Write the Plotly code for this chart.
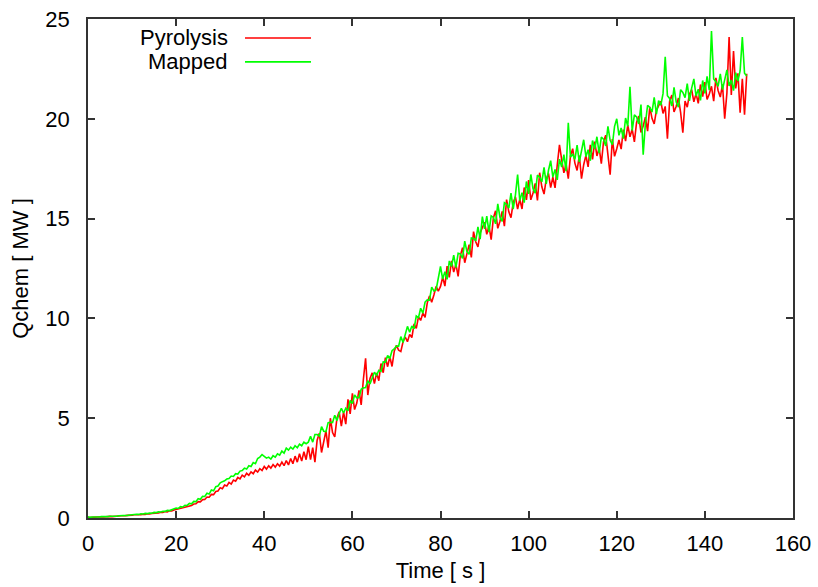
import plotly.graph_objects as go

# time step 0.5 s, 0 .. 149.5 s
time_s = [i * 0.5 for i in range(300)]

pyrolysis = [
    0.02, 0.03, 0.03, 0.04, 0.05, 0.04, 0.06, 0.05, 0.07, 0.06, 0.08, 0.07, 0.09, 0.08, 0.10, 0.11, 0.10, 0.12, 0.13, 0.12,
    0.14, 0.16, 0.15, 0.17, 0.16, 0.19, 0.18, 0.21, 0.20, 0.23, 0.23, 0.26, 0.25, 0.29, 0.28, 0.32, 0.31, 0.36, 0.35, 0.40,
    0.43, 0.44, 0.49, 0.50, 0.55, 0.56, 0.62, 0.63, 0.70, 0.71, 0.82, 0.81, 0.92, 0.93, 1.05, 1.04, 1.18, 1.17, 1.33, 1.35,
    1.52, 1.47, 1.65, 1.60, 1.78, 1.70, 1.90, 1.84, 2.03, 1.96, 2.15, 2.06, 2.24, 2.14, 2.31, 2.22, 2.40, 2.30, 2.47, 2.38,
    2.58, 2.45, 2.62, 2.50, 2.68, 2.55, 2.72, 2.60, 2.80, 2.62, 2.88, 2.66, 2.98, 2.72, 3.10, 2.80, 3.22, 2.85, 3.32, 2.92,
    3.58, 2.92, 3.52, 2.80, 3.90, 4.24, 3.28, 3.86, 4.36, 3.52, 5.00, 4.28, 4.06, 5.00, 5.32, 4.60, 5.30, 4.70, 5.94, 5.22,
    6.25, 5.43, 5.76, 6.39, 5.67, 6.95, 8.00, 6.16, 6.99, 7.27, 6.73, 7.27, 6.88, 7.74, 7.28, 8.03, 7.58, 8.08, 7.59, 8.35,
    8.65, 8.41, 8.34, 8.83, 9.07, 8.83, 9.20, 9.04, 9.73, 9.50, 10.08, 9.90, 10.27, 10.05, 10.78, 11.12, 10.81, 11.17, 11.60, 11.37,
    11.60, 12.06, 11.62, 12.62, 12.06, 12.88, 12.32, 12.72, 12.10, 13.15, 13.54, 12.79, 13.18, 13.69, 13.06, 14.35, 13.84, 13.58, 14.28, 14.56,
    14.82, 14.21, 14.63, 13.95, 15.03, 15.39, 14.51, 14.87, 15.36, 14.62, 15.95, 15.34, 15.05, 15.80, 16.09, 15.48, 15.97, 15.48, 16.56, 15.94,
    16.93, 15.94, 16.28, 16.76, 15.91, 17.30, 16.59, 16.23, 16.99, 17.26, 16.55, 17.07, 16.54, 17.69, 18.70, 17.96, 17.29, 17.74, 17.00, 18.15,
    18.50, 17.78, 17.41, 18.16, 17.00, 17.70, 18.17, 17.59, 18.69, 17.97, 18.86, 18.14, 18.54, 17.75, 18.85, 19.18, 18.18, 17.20, 18.98, 18.12,
    18.50, 18.94, 18.48, 19.46, 18.88, 19.68, 19.10, 19.48, 18.84, 19.82, 20.14, 19.32, 19.64, 20.08, 19.38, 20.60, 20.02, 19.74, 20.42, 20.68,
    20.88, 20.27, 20.62, 19.00, 20.90, 21.19, 20.34, 20.63, 21.04, 20.31, 19.30, 20.89, 20.58, 21.23, 21.46, 20.85, 21.26, 20.77, 21.72, 21.11,
    21.84, 20.97, 21.24, 21.63, 20.88, 22.05, 21.42, 21.09, 21.72, 20.00, 21.30, 24.10, 21.20, 23.40, 21.52, 22.28, 20.30, 22.00, 20.20, 22.26,
]

mapped = [
    0.06, 0.03, 0.05, 0.04, 0.06, 0.05, 0.07, 0.06, 0.08, 0.07, 0.09, 0.08, 0.10, 0.09, 0.11, 0.11, 0.12, 0.13, 0.13, 0.15,
    0.17, 0.16, 0.19, 0.18, 0.21, 0.20, 0.23, 0.22, 0.25, 0.24, 0.28, 0.27, 0.31, 0.30, 0.34, 0.33, 0.38, 0.37, 0.42, 0.44,
    0.50, 0.48, 0.57, 0.55, 0.64, 0.63, 0.73, 0.71, 0.83, 0.82, 0.97, 0.94, 1.09, 1.08, 1.24, 1.20, 1.40, 1.36, 1.57, 1.60,
    1.76, 1.82, 1.86, 1.95, 1.98, 2.10, 2.08, 2.22, 2.20, 2.35, 2.38, 2.50, 2.45, 2.62, 2.58, 2.78, 2.72, 2.98, 3.05, 3.18,
    3.10, 3.00, 3.05, 2.95, 3.12, 3.05, 3.22, 3.15, 3.35, 3.25, 3.50, 3.40, 3.55, 3.45, 3.62, 3.52, 3.70, 3.62, 3.80, 3.72,
    3.80, 4.10, 3.80, 4.18, 4.18, 4.10, 4.58, 4.35, 4.33, 4.78, 4.80, 4.78, 5.15, 4.88, 5.23, 5.50, 5.26, 5.50, 5.37, 5.89,
    5.73, 6.16, 6.02, 6.04, 6.45, 6.52, 6.54, 6.88, 6.71, 7.04, 7.30, 7.15, 7.40, 7.35, 7.82, 7.81, 8.14, 7.99, 8.38, 8.47,
    8.61, 8.61, 9.09, 8.79, 9.24, 9.60, 9.31, 9.62, 9.48, 10.12, 10.04, 10.51, 10.26, 10.82, 10.93, 10.92, 11.57, 11.38, 11.43, 12.05,
    12.60, 11.97, 12.34, 11.96, 12.88, 12.60, 13.17, 12.54, 13.26, 13.23, 13.00, 13.87, 13.34, 13.21, 14.03, 14.00, 13.89, 14.58, 13.97, 15.10,
    14.48, 15.12, 14.32, 15.14, 15.06, 14.74, 15.74, 15.06, 14.86, 15.80, 15.72, 15.52, 16.28, 15.48, 16.18, 17.20, 15.90, 16.30, 15.80, 16.86,
    16.24, 17.21, 16.50, 16.27, 17.18, 17.07, 16.84, 17.57, 16.74, 17.41, 17.90, 17.08, 17.46, 16.94, 17.98, 17.58, 18.20, 17.38, 19.80, 18.08,
    18.22, 17.97, 18.68, 17.83, 18.48, 18.95, 18.10, 18.45, 17.90, 18.91, 18.48, 19.10, 18.28, 19.08, 18.98, 18.64, 19.62, 18.92, 18.70, 19.62,
    20.00, 19.17, 19.54, 19.01, 20.04, 19.63, 21.60, 19.41, 20.20, 20.09, 19.74, 20.71, 18.20, 19.77, 20.68, 20.57, 20.34, 21.07, 20.24, 20.91,
    20.68, 21.26, 23.10, 21.16, 21.02, 20.64, 21.58, 20.84, 20.58, 21.46, 21.32, 21.06, 21.76, 20.90, 21.54, 22.00, 21.14, 21.48, 20.92, 21.92,
    21.27, 22.13, 21.44, 24.40, 22.00, 21.86, 21.62, 22.25, 21.46, 22.04, 22.45, 21.65, 21.94, 21.41, 22.31, 21.89, 22.41, 24.10, 22.28, 22.14,
]

series_names = ["Pyrolysis", "Mapped"]
series_colors = ["#ff0000", "#00ff00"]
x_ticks = [0, 20, 40, 60, 80, 100, 120, 140, 160]
y_ticks = [0, 5, 10, 15, 20, 25]

FONT = "Liberation Sans, Arial, sans-serif"
FS = 22

fig = go.Figure()
for name, ys, col in zip(series_names, [pyrolysis, mapped], series_colors):
    fig.add_trace(go.Scatter(x=time_s, y=ys, mode="lines", name=name,
                             line=dict(color=col, width=1.6), showlegend=False))

axis_common = dict(showline=True, mirror="ticks", linecolor="#333333", linewidth=1.5,
                   ticks="inside", ticklen=7, tickwidth=1.5, tickcolor="#333333",
                   showgrid=False, zeroline=False, automargin=False,
                   tickfont=dict(family=FONT, size=FS, color="#000000"))

fig.update_xaxes(range=[0, 160], tickvals=x_ticks, ticklabelstandoff=5,
                 title=dict(text="Time [ s ]", font=dict(family=FONT, size=FS, color="#000000"), standoff=7),
                 **axis_common)
fig.update_yaxes(range=[0, 25], tickvals=y_ticks, ticklabelstandoff=12,
                 title=dict(text="Qchem [ MW ]", font=dict(family=FONT, size=FS, color="#000000"), standoff=11),
                 **axis_common)

# gnuplot-style key: text right-aligned, line sample to its right
key_y = [0.962, 0.914]
for name, col, ky in zip(series_names, series_colors, key_y):
    fig.add_annotation(xref="paper", yref="paper", x=0.2014, y=ky, text=name,
                       showarrow=False, xanchor="right", yanchor="middle",
                       font=dict(family=FONT, size=FS, color="#000000"))
    fig.add_shape(type="line", xref="paper", yref="paper", x0=0.2227, x1=0.3163,
                  y0=ky, y1=ky, line=dict(color=col, width=1.6))

fig.update_layout(width=818, height=587, margin=dict(l=88, r=25, t=19, b=69),
                  plot_bgcolor="white", paper_bgcolor="white",
                  font=dict(family=FONT, size=FS, color="#000000"))

fig.write_html("out.html")
